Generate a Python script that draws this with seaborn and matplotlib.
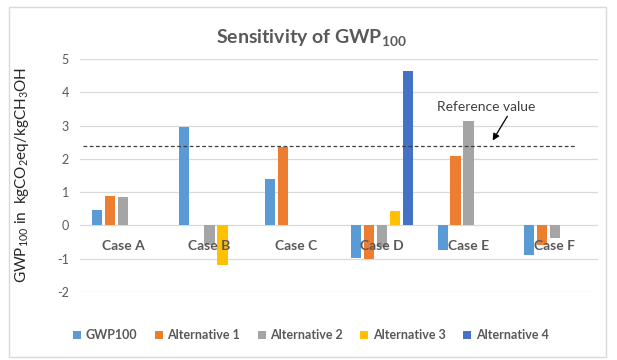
import matplotlib
matplotlib.use("Agg")
import matplotlib.pyplot as plt
import seaborn as sns
import pandas as pd
from matplotlib.patches import Rectangle
from matplotlib.lines import Line2D

cases = ["Case A", "Case B", "Case C", "Case D", "Case E", "Case F"]
series_names = ["GWP100", "Alternative 1", "Alternative 2", "Alternative 3", "Alternative 4"]
gwp100 = [0.47, 2.97, 1.40, -0.98, -0.74, -0.90]
alt1 = [0.89, 0.0, 2.36, -1.02, 2.08, -0.60]
alt2 = [0.86, -0.58, 0.0, -0.65, 3.14, -0.38]
alt3 = [0.0, -1.18, 0.0, 0.42, 0.0, 0.0]
alt4 = [0.0, 0.0, 0.0, 4.64, 0.0, 0.0]
reference_value = 2.40
yticks = [-2, -1, 0, 1, 2, 3, 4, 5]
colors = ["#5B9BD5", "#ED7D31", "#A5A5A5", "#FFC000", "#4472C4"]

rows = []
for name, vals in zip(series_names, [gwp100, alt1, alt2, alt3, alt4]):
    for c, v in zip(cases, vals):
        rows.append({"case": c, "series": name, "value": v})
df = pd.DataFrame(rows)

sns.set_theme(style="white")
plt.rcParams["font.family"] = ["Lato", "DejaVu Sans"]
plt.rcParams["mathtext.default"] = "regular"

fig = plt.figure(figsize=(6.17, 3.6), dpi=100)
W, H = 617, 360
ax = fig.add_axes([80 / W, 1 - 292 / H, (598 - 80) / W, (292 - 59) / H])

sns.barplot(data=df, x="case", y="value", hue="series", order=cases,
            hue_order=series_names, palette=colors, saturation=1, width=0.75, gap=0.22,
            linewidth=0, errorbar=None, legend=False, ax=ax, zorder=2)

ax.set_xlim(-0.5, 5.5)
ax.set_ylim(-2, 5)
ax.set_yticks(yticks)
ax.set_yticklabels([str(t) for t in yticks])
ax.grid(axis="y", color="#d9d9d9", linewidth=0.9, zorder=0)
ax.set_axisbelow(True)
for s in ax.spines.values():
    s.set_visible(False)
ax.set_xticks([])
ax.set_xlabel("")
ax.set_ylabel("")
ax.tick_params(axis="y", length=0, pad=8, labelsize=9, labelcolor="#595959")

for i, c in enumerate(cases):
    ax.text(i, -0.62, c, ha="center", va="center", fontsize=10,
            fontweight="bold", color="#595959", zorder=5)

ax.plot([-0.47, 5.24], [reference_value, reference_value], color="#404040",
        linewidth=0.9, linestyle=(0, (3, 2)), zorder=3)
ax.text(4.21, 3.56, "Reference value", ha="center", va="center", fontsize=10,
        color="#404040", zorder=5)
ax.annotate("", xy=(4.28, 2.55), xytext=(4.45, 3.28),
            arrowprops=dict(arrowstyle="-|>", color="#000000", lw=0.9,
                            shrinkA=0, shrinkB=0, mutation_scale=10),
            zorder=5)

fig.text(311 / W, 1 - 38 / H, "Sensitivity of GWP$_{100}$", ha="center", va="center",
         fontsize=14, fontweight="bold", color="#595959")
fig.text(22 / W, 1 - 175 / H, "GWP$_{100}$ in  kgCO$_2$eq/kgCH$_3$OH", ha="center",
         va="center", rotation=90, fontsize=11, color="#262626")

handles = [Line2D([0], [0], marker="s", linestyle="none", markersize=6,
                  markerfacecolor=col, markeredgewidth=0) for col in colors]
leg = fig.legend(handles, series_names, loc="center", ncol=5,
                 bbox_to_anchor=(311 / W, 1 - 335 / H), frameon=False,
                 handlelength=0.6, handletextpad=0.4, columnspacing=1.4,
                 prop={"size": 9, "weight": "bold"})
for t in leg.get_texts():
    t.set_color("#595959")

fig.patches.append(Rectangle((9 / W, 3 / H), (606 - 9) / W, (353 - 3) / H,
                             transform=fig.transFigure, fill=False,
                             edgecolor="#d9d9d9", linewidth=1))

fig.savefig("out.png", dpi=100, facecolor="white")
